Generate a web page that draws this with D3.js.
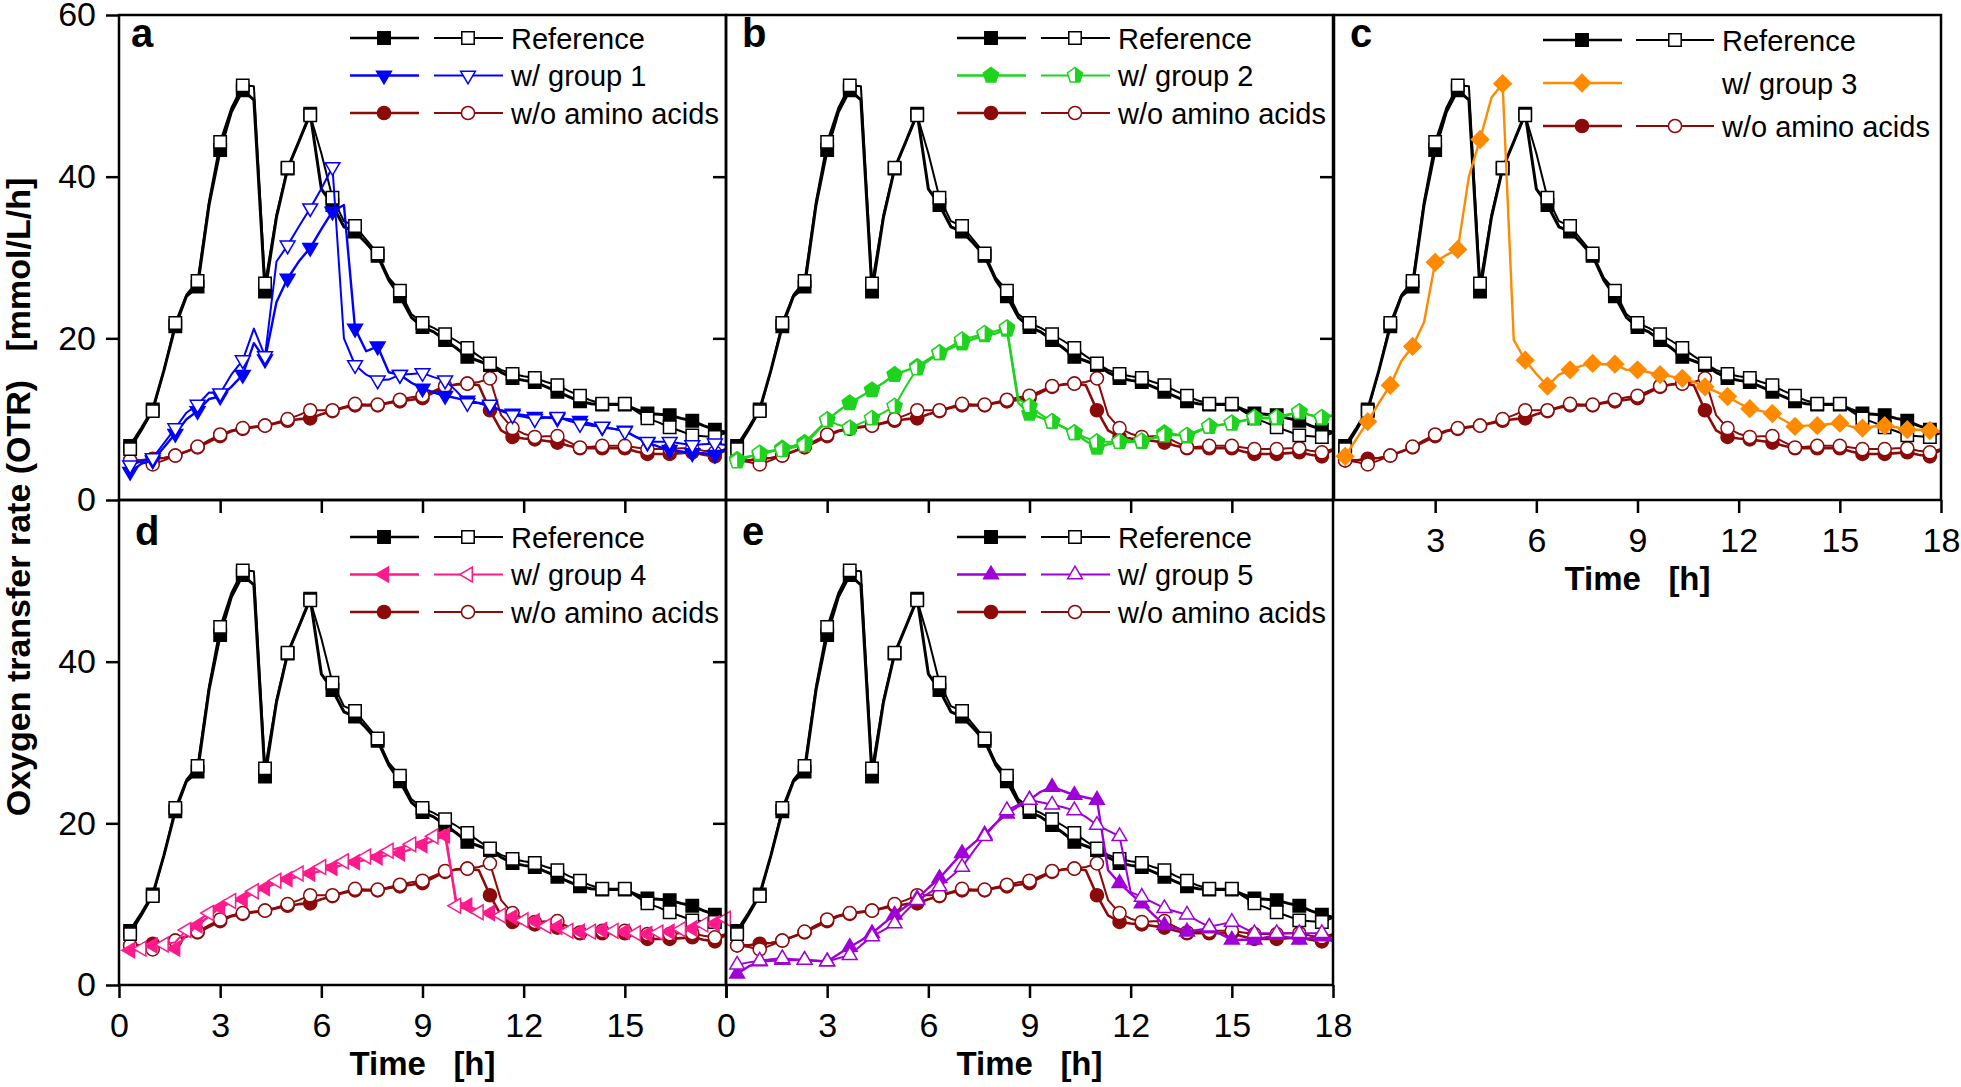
<!DOCTYPE html>
<html>
<head>
<meta charset="utf-8">
<script src="https://cdn.jsdelivr.net/npm/d3@7"></script>
<style>
  body { margin: 0; background: #fff; }
  svg { display: block; font-family: "Liberation Sans", Arial, sans-serif; }
</style>
</head>
<body>
<div id="chart"></div>
<script>
// sampling times [h]; symbols are drawn on every second point
var hours = [0.33,0.67,1,1.33,1.67,2,2.33,2.67,3,3.33,3.67,4,4.33,4.67,5,5.33,5.67,6,6.33,6.67,7,7.33,7.67,8,8.33,8.67,9,9.33,9.67,10,10.33,10.67,11,11.33,11.67,12,12.33,12.67,13,13.33,13.67,14,14.33,14.67,15,15.33,15.67,16,16.33,16.67,17,17.33,17.67,18];

// OTR [mmol/L/h], two replicates per condition
var refFilled = [6.7,8.9,11.2,16.0,21.5,25.2,26.4,36.5,43.3,48.0,50.7,49.5,25.8,35.0,41.0,44.3,47.8,38.5,36.5,33.8,33.2,31.8,30.2,27.2,25.2,22.6,21.4,20.8,19.8,18.8,17.7,17.2,16.7,15.8,15.1,14.8,14.6,14.0,13.4,12.8,12.2,11.9,11.8,11.8,11.8,11.2,10.7,10.6,10.5,10.1,9.8,9.2,8.7,8.4];
var refOpen = [6.3,8.6,11.0,16.0,21.9,25.4,27.1,37.0,44.3,48.5,51.3,51.2,26.8,35.3,41.1,44.3,47.6,42.9,37.4,34.5,33.9,32.2,30.5,27.5,25.9,23.0,21.9,21.3,20.5,19.7,18.8,17.8,16.9,16.1,15.6,15.3,15.1,14.6,14.2,13.5,12.9,12.3,11.9,11.9,11.9,11.0,10.1,9.6,9.0,8.5,8.0,7.9,7.8,8.3];
var noAAFilled = [4.9,4.9,5.1,5.2,5.5,6.0,6.5,7.2,7.9,8.5,8.8,9.0,9.2,9.5,9.8,10.0,10.1,10.6,11.0,11.4,11.7,11.7,11.7,12.0,12.2,12.4,12.6,13.3,14.0,14.3,14.4,14.2,11.1,8.6,7.8,7.6,7.5,7.3,7.1,6.7,6.4,6.4,6.4,6.4,6.4,6.0,5.7,5.7,5.7,5.8,5.9,5.6,5.4,6.2];
var noAAOpen = [4.9,4.7,4.4,4.9,5.5,6.0,6.6,7.4,8.1,8.6,8.9,9.1,9.2,9.6,10.0,10.5,11.1,11.1,11.1,11.5,11.9,11.8,11.8,12.1,12.4,12.7,12.9,13.5,14.1,14.3,14.4,14.6,15.05,10.5,8.9,8.2,7.8,7.9,7.9,7.2,6.5,6.6,6.7,6.7,6.7,6.5,6.3,6.3,6.3,6.4,6.4,6.1,5.9,6.3];

var g1Filled = [3.5,4.5,4.9,6.5,8.2,10.0,11.0,12.5,12.8,14.0,15.5,19.4,17.4,24.5,27.4,29.5,31.2,33.5,35.7,36.5,21.2,18.4,19.0,15.8,15.5,14.5,13.8,13.3,12.9,12.6,12.3,12.0,11.6,11.1,10.7,10.5,10.3,10.2,10.1,10.0,9.8,9.4,9.0,8.8,8.6,7.8,7.1,6.6,6.2,6.0,5.8,5.8,5.6,6.3];
var g1Open = [4.3,4.8,5.2,7.0,8.9,10.8,11.8,13.3,13.2,15.5,17.3,21.2,17.8,29.5,31.5,33.8,36.1,38.5,41.2,20.0,16.7,15.5,14.8,14.9,15.5,15.6,15.7,15.2,14.8,13.5,12.0,12.0,11.8,11.0,10.5,10.3,10.0,10.2,10.3,9.8,9.4,9.2,9.1,8.8,8.5,7.8,7.2,7.2,7.2,7.0,6.8,6.9,7.0,6.8];
var g2Filled = [5.0,5.4,5.6,6.0,6.4,6.7,7.1,8.5,9.9,11.0,12.0,12.8,13.6,14.5,15.5,16.0,16.5,17.4,18.2,18.8,19.4,19.9,20.4,20.6,21.1,12.0,10.7,10.2,9.7,9.0,8.3,7.3,6.5,6.9,7.2,7.2,7.2,7.7,8.3,8.1,7.9,8.5,9.1,9.3,9.5,9.8,10.1,10.1,10.1,10.5,10.9,10.5,10.1,10.5];
var g2Open = [4.8,5.3,5.8,6.1,6.2,6.5,6.8,8.3,9.9,9.3,8.9,9.5,10.1,10.8,11.6,14.0,16.3,17.2,18.2,19.0,19.8,20.2,20.6,20.9,21.3,12.5,11.6,10.6,9.7,9.0,8.3,7.7,7.2,7.2,7.2,7.3,7.3,7.6,8.0,8.0,8.0,8.6,9.1,9.3,9.5,9.8,10.2,10.2,10.2,10.6,10.9,10.5,10.2,10.4];
var g3Filled = [5.4,7.6,9.7,12.0,14.2,17.2,19.0,22.0,29.4,30.3,31.0,40.0,44.6,49.8,51.5,19.8,17.3,15.6,14.1,15.5,16.1,16.6,16.9,16.8,16.8,16.1,16.1,15.8,15.5,15.3,15.05,14.6,14.0,13.4,12.8,12.0,11.3,11.0,10.7,9.9,9.1,9.2,9.2,9.4,9.5,9.1,8.9,9.1,9.2,9.0,8.7,8.7,8.6,8.4];
var g4Filled = [4.3,4.6,4.9,4.7,4.5,6.2,7.4,8.5,9.6,10.2,10.6,11.4,12.0,12.6,13.1,13.4,13.8,14.1,14.5,14.9,15.2,15.5,15.8,16.1,16.3,16.8,17.3,17.9,18.5,10.4,9.8,9.2,8.9,8.6,8.4,8.2,7.9,7.5,7.2,6.9,6.6,6.8,6.8,6.7,6.6,6.5,6.3,6.4,6.6,6.8,7.0,7.3,7.6,8.0];
var g4Open = [4.0,4.5,4.8,5.0,5.3,6.8,7.9,8.9,9.8,10.4,10.9,11.6,12.3,12.9,13.4,13.8,14.2,14.6,15.0,15.3,15.6,15.9,16.2,16.6,17.0,17.4,17.9,18.4,19.2,9.8,9.3,9.0,8.7,8.6,8.3,8.0,7.6,7.3,7.0,6.7,6.5,6.6,6.7,6.7,6.6,6.4,6.3,6.5,6.7,6.9,7.1,7.5,7.9,8.2];
var g5Filled = [1.4,2.3,2.9,3.0,3.1,3.1,3.1,3.0,2.9,3.8,4.7,5.5,6.4,7.6,8.7,9.7,10.7,12.0,13.2,14.8,16.3,17.5,18.6,20.0,21.2,22.1,22.9,23.9,24.5,24.0,23.5,23.2,22.9,14.2,12.6,11.3,10.1,8.7,7.4,7.0,6.6,6.8,7.0,6.3,5.6,5.6,5.6,5.9,6.2,5.9,5.6,5.8,6.0,5.4];
var g5Open = [2.5,2.8,3.0,3.2,3.3,3.2,3.1,3.0,2.9,3.3,3.7,4.9,6.0,6.8,7.6,9.1,10.5,11.3,12.2,13.4,14.6,16.5,18.4,20.0,21.6,22.3,22.9,22.6,22.3,22.0,21.6,20.8,19.8,19.1,18.4,11.5,10.9,10.2,9.5,9.1,8.7,7.9,7.2,7.5,7.8,7.1,6.4,6.4,6.4,6.4,6.4,6.4,6.4,5.6];

var panelLetters = ["a", "b", "c", "d", "e"];
var groupLabels = ["w/ group 1", "w/ group 2", "w/ group 3", "w/ group 4", "w/ group 5"];
var timeTicks = [0, 3, 6, 9, 12, 15, 18];
var otrTicks = [0, 20, 40, 60];

// layout
var panelW = 607, panelH = 485;
var colLeft = [119, 726, 1334], rowTop = [15, 500];
var font = "'Liberation Sans', Arial, sans-serif";

var refColor = "#000000", noAAColor = "#8b0a0a";

var panels = [
    { col: 0, row: 0, color: "#0000ff", filled: g1Filled, open: g1Open, shape: "down", openStyle: "open", openParity: 0, rightTicks: true },
    { col: 1, row: 0, color: "#1ed31e", filled: g2Filled, open: g2Open, shape: "pent", openStyle: "half", openParity: 0, rightTicks: true },
    { col: 2, row: 0, color: "#ff8a00", filled: g3Filled, open: null, shape: "diamond", rightTicks: false },
    { col: 0, row: 1, color: "#ff1a8c", filled: g4Filled, open: g4Open, shape: "left", openStyle: "open", openParity: 1, rightTicks: true },
    { col: 1, row: 1, color: "#a000d8", filled: g5Filled, open: g5Open, shape: "up", openStyle: "open", openParity: 0, rightTicks: false }
];

var svg = d3.select("#chart").append("svg")
    .attr("width", 1961)
    .attr("height", 1087);

var x = d3.scaleLinear().domain([0, 18]).range([0, panelW]);
var y = d3.scaleLinear().domain([0, 60]).range([panelH, 0]);

var line = d3.line()
    .x(function(d, i) { return x(hours[i]); })
    .y(function(d) { return y(d); });

// symbol outlines, centred on the data point
function shapePath(shape) {
    switch (shape) {
        case "square": return "M-6.2,-6.2H6.2V6.2H-6.2Z";
        case "circle": return d3.symbol(d3.symbolCircle, 135)();
        case "down": return "M-7.4,-4.3L7.4,-4.3L0,8.3Z";
        case "up": return "M-7.4,4.3L7.4,4.3L0,-8.3Z";
        case "left": return "M4.3,-7.4L4.3,7.4L-8.3,0Z";
        case "diamond": return "M0,-8.6L8.6,0L0,8.6L-8.6,0Z";
        case "pent": return "M0,-8L7.6,-2.5L4.7,6.5L-4.7,6.5L-7.6,-2.5Z";
    }
}
var pentRightHalf = "M0,-8L7.6,-2.5L4.7,6.5L0,6.5Z";

function drawMarker(g, shape, color, style) {
    g.append("path")
        .attr("d", shapePath(shape))
        .attr("fill", style === "filled" ? color : "#fff")
        .attr("stroke", color)
        .attr("stroke-width", 1.5);
    if (style === "half") {
        g.append("path").attr("d", pentRightHalf).attr("fill", color);
    }
}

function drawSeries(g, values, color, shape, style, parity, width) {
    g.append("path")
        .datum(values)
        .attr("d", line)
        .attr("fill", "none")
        .attr("stroke", color)
        .attr("stroke-width", width)
        .attr("stroke-linejoin", "round");

    g.selectAll(null)
        .data(values.map(function(v, i) { return { t: hours[i], v: v, i: i }; })
            .filter(function(d) { return d.i % 2 === parity; }))
        .enter().append("g")
        .attr("transform", function(d) { return "translate(" + x(d.t) + "," + y(d.v) + ")"; })
        .each(function() { drawMarker(d3.select(this), shape, color, style); });
}

function styleAxis(g) {
    g.attr("font-family", null).attr("font-size", null);
    g.select(".domain").remove();
    g.selectAll(".tick line").attr("stroke", "#000").attr("stroke-width", 2.5);
    g.selectAll(".tick text")
        .attr("fill", "#000")
        .style("font-family", font)
        .style("font-size", "34px");
}

panels.forEach(function(p, idx) {
    var g = svg.append("g")
        .attr("transform", "translate(" + colLeft[p.col] + "," + rowTop[p.row] + ")");

    // data
    drawSeries(g, noAAFilled, noAAColor, "circle", "filled", 0, 2.6);
    drawSeries(g, noAAOpen, noAAColor, "circle", "open", 0, 2);
    drawSeries(g, refFilled, refColor, "square", "filled", 0, 3);
    drawSeries(g, refOpen, refColor, "square", "open", 0, 2);
    drawSeries(g, p.filled, p.color, p.shape, "filled", 0, 2.4);
    if (p.open) drawSeries(g, p.open, p.color, p.shape, p.openStyle, p.openParity, 2);

    // frame
    g.append("rect")
        .attr("width", panelW).attr("height", panelH)
        .attr("fill", "none").attr("stroke", "#000").attr("stroke-width", 2.5);

    // left axis with labels
    if (p.col === 0) {
        g.append("g")
            .call(d3.axisLeft(y).tickValues(p.row === 0 ? otrTicks : otrTicks.slice(0, 3))
                .tickSize(13).tickPadding(10).tickFormat(d3.format("d")))
            .call(styleAxis);
    }
    // inward ticks on the right edge
    if (p.rightTicks) {
        g.append("g")
            .attr("transform", "translate(" + panelW + ",0)")
            .call(d3.axisRight(y).tickValues([20, 40]).tickSize(-13).tickFormat(""))
            .call(styleAxis);
    }
    // inward ticks on the top edge of the lower row
    if (p.row === 1) {
        g.append("g")
            .call(d3.axisTop(x).tickValues(timeTicks.slice(1, 6)).tickSize(-13).tickFormat(""))
            .call(styleAxis);
    }
    // time axis under the lowest panel of each column
    if (p.row === 1 || p.col === 2) {
        var vals = p.col === 2 ? timeTicks.slice(1) : timeTicks;
        g.append("g")
            .attr("transform", "translate(0," + panelH + ")")
            .call(d3.axisBottom(x).tickValues(vals).tickSize(13).tickPadding(15)
                .tickFormat(function(d) { return (p.col === 0 && d === 18) ? "" : d; }))
            .call(styleAxis);

        g.append("text")
            .attr("x", panelW / 2)
            .attr("y", panelH + 90)
            .attr("text-anchor", "middle")
            .attr("xml:space", "preserve")
            .style("white-space", "pre")
            .style("font-family", font)
            .style("font-weight", "bold")
            .style("font-size", "33px")
            .text("Time   [h]");
    }

    // panel letter
    g.append("text")
        .attr("x", idx === 0 ? 12 : 16)
        .attr("y", p.row === 0 ? 32 : 45)
        .style("font-family", font)
        .style("font-weight", "bold")
        .style("font-size", "40px")
        .text(panelLetters[idx]);

    // legend
    var isC = p.col === 2;
    var L = isC
        ? { y0: 25, dy: 43, a0: 209, a1: 288, am: 248, b0: 302, b1: 380, bm: 341, tx: 388 }
        : { y0: p.row === 0 ? 23 : 37, dy: 37.5, a0: 231, a1: 300, am: 265, b0: 315, b1: 384, bm: 349, tx: 392 };

    var rows = [
        { text: "Reference", color: refColor, shape: "square", second: "open" },
        { text: groupLabels[idx], color: p.color, shape: p.shape, second: p.open ? p.openStyle : null },
        { text: "w/o amino acids", color: noAAColor, shape: "circle", second: "open" }
    ];
    rows.forEach(function(r, k) {
        var ly = L.y0 + k * L.dy;
        var lg = g.append("g");
        lg.append("line").attr("x1", L.a0).attr("x2", L.a1).attr("y1", ly).attr("y2", ly)
            .attr("stroke", r.color).attr("stroke-width", 2.4);
        drawMarker(lg.append("g").attr("transform", "translate(" + L.am + "," + ly + ")"), r.shape, r.color, "filled");
        if (r.second) {
            lg.append("line").attr("x1", L.b0).attr("x2", L.b1).attr("y1", ly).attr("y2", ly)
                .attr("stroke", r.color).attr("stroke-width", 2.2);
            drawMarker(lg.append("g").attr("transform", "translate(" + L.bm + "," + ly + ")"), r.shape, r.color, r.second);
        }
        lg.append("text")
            .attr("x", L.tx).attr("y", ly + 10.5)
            .style("font-family", font)
            .style("font-size", "29px")
            .text(r.text);
    });
});

// shared y axis title
svg.append("text")
    .attr("transform", "translate(30,497) rotate(-90)")
    .attr("text-anchor", "middle")
    .attr("xml:space", "preserve")
    .style("white-space", "pre")
    .style("font-family", font)
    .style("font-weight", "bold")
    .style("font-size", "34px")
    .text("Oxygen transfer rate (OTR)   [mmol/L/h]");
</script>
</body>
</html>
